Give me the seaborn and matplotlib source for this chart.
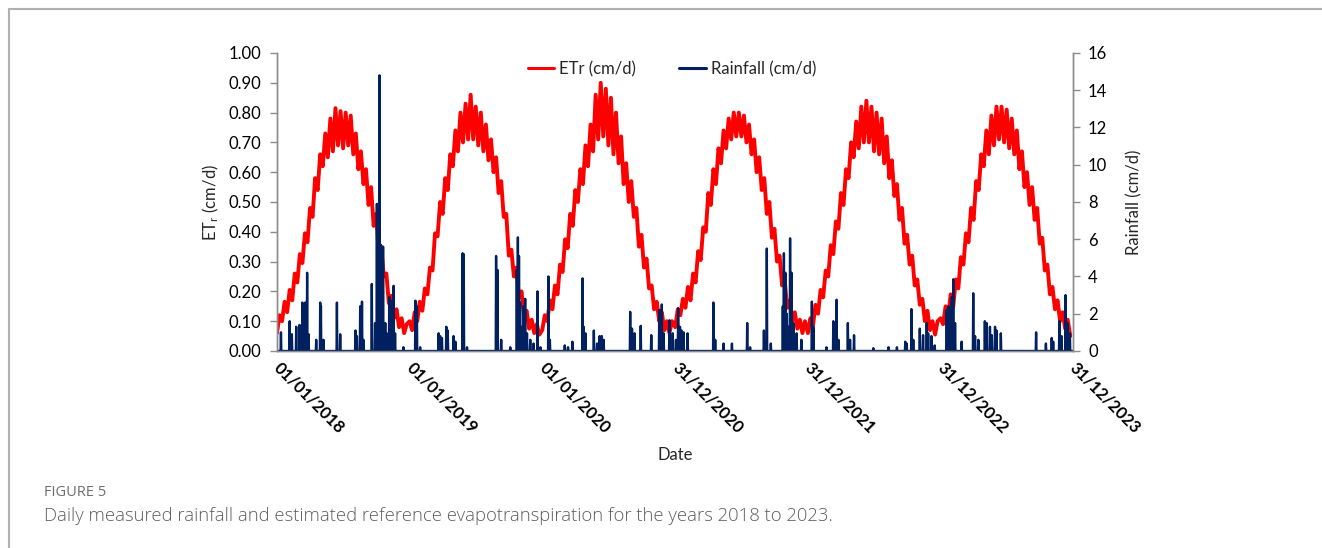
import numpy as np
import pandas as pd
import seaborn as sns
import matplotlib.pyplot as plt
from matplotlib.lines import Line2D

# Weekly reference ET (cm/d), one list per year
etr_2018 = [0.06, 0.12, 0.10, 0.165, 0.13, 0.205, 0.17, 0.26, 0.23, 0.325, 0.295, 0.395, 0.365,
            0.48, 0.45, 0.58, 0.54, 0.66, 0.62, 0.73, 0.65, 0.78, 0.67, 0.815, 0.69, 0.805,
            0.68, 0.80, 0.69, 0.79, 0.66, 0.73, 0.61, 0.67, 0.56, 0.61, 0.49, 0.55, 0.42,
            0.46, 0.34, 0.35, 0.25, 0.26, 0.16, 0.185, 0.11, 0.14, 0.08, 0.11, 0.06, 0.09]
etr_2019 = [0.10, 0.07, 0.13, 0.10, 0.165, 0.135, 0.21, 0.19, 0.28, 0.27, 0.395, 0.385, 0.50,
            0.46, 0.58, 0.54, 0.66, 0.62, 0.74, 0.67, 0.80, 0.70, 0.83, 0.71, 0.86, 0.71,
            0.82, 0.69, 0.80, 0.67, 0.76, 0.64, 0.71, 0.60, 0.65, 0.53, 0.57, 0.45, 0.46,
            0.32, 0.34, 0.25, 0.28, 0.18, 0.20, 0.115, 0.135, 0.075, 0.105, 0.06, 0.09, 0.055]
etr_2020 = [0.07, 0.12, 0.10, 0.17, 0.14, 0.22, 0.19, 0.29, 0.265, 0.375, 0.345, 0.46, 0.42,
            0.54, 0.50, 0.61, 0.56, 0.69, 0.62, 0.76, 0.67, 0.86, 0.71, 0.90, 0.72, 0.88,
            0.69, 0.85, 0.66, 0.80, 0.63, 0.72, 0.56, 0.63, 0.50, 0.57, 0.45, 0.48, 0.35,
            0.39, 0.28, 0.31, 0.21, 0.22, 0.14, 0.165, 0.10, 0.13, 0.07, 0.10, 0.06, 0.10]
etr_2021 = [0.08, 0.14, 0.12, 0.175, 0.145, 0.215, 0.17, 0.26, 0.23, 0.335, 0.305, 0.415, 0.40,
            0.53, 0.49, 0.61, 0.56, 0.68, 0.63, 0.74, 0.68, 0.78, 0.71, 0.80, 0.72, 0.80,
            0.72, 0.79, 0.70, 0.76, 0.66, 0.71, 0.60, 0.65, 0.54, 0.58, 0.46, 0.50, 0.38,
            0.41, 0.30, 0.32, 0.22, 0.24, 0.145, 0.17, 0.10, 0.13, 0.075, 0.105, 0.06, 0.10]
etr_2022 = [0.06, 0.11, 0.085, 0.155, 0.125, 0.205, 0.18, 0.27, 0.25, 0.355, 0.325, 0.435, 0.41,
            0.53, 0.49, 0.61, 0.58, 0.70, 0.65, 0.77, 0.68, 0.82, 0.70, 0.84, 0.70, 0.82,
            0.67, 0.80, 0.66, 0.78, 0.63, 0.72, 0.58, 0.64, 0.52, 0.56, 0.44, 0.48, 0.36,
            0.39, 0.29, 0.32, 0.22, 0.24, 0.155, 0.175, 0.10, 0.135, 0.07, 0.10, 0.055, 0.10]
etr_2023 = [0.11, 0.09, 0.15, 0.115, 0.19, 0.15, 0.24, 0.21, 0.315, 0.29, 0.395, 0.365, 0.48,
            0.44, 0.57, 0.54, 0.66, 0.62, 0.74, 0.66, 0.79, 0.69, 0.82, 0.71, 0.82, 0.70,
            0.81, 0.68, 0.78, 0.66, 0.74, 0.61, 0.67, 0.55, 0.60, 0.49, 0.55, 0.44, 0.48,
            0.36, 0.38, 0.27, 0.29, 0.19, 0.215, 0.14, 0.17, 0.10, 0.13, 0.075, 0.105, 0.05]
etr_years = [2018, 2019, 2020, 2021, 2022, 2023]

# Rain events: day number counted from 01/01/2018, and depth (cm/d)
rain_day = [11, 35, 41, 53, 62, 70, 78, 83, 87, 108, 119, 121, 128, 165, 174, 216, 220,
            229, 234, 238, 261, 270, 275, 279, 282, 286, 292, 298, 302, 309, 313, 321, 325,
            348,
            381, 385, 394, 445, 449, 454, 466, 470, 486, 491, 511, 514, 523, 603, 607, 617,
            642, 660, 663, 666, 669, 674, 678, 683, 688, 697, 706, 717, 725,
            747, 751, 792, 801, 813, 841, 844, 849, 872, 881, 888, 899,
            894, 972, 977, 984, 1001, 1030, 1052, 1057, 1059, 1064, 1080, 1089, 1098,
            1104, 1109, 1113, 1119, 1130, 1201, 1206, 1229, 1252, 1294, 1302,
            1340, 1348, 1359, 1392, 1395, 1399, 1403, 1407, 1412, 1416, 1421, 1430, 1443,
            1472, 1476, 1512, 1531, 1540, 1545, 1571, 1577, 1588, 1641, 1683, 1706, 1729,
            1733, 1746, 1751, 1769, 1778, 1788, 1792, 1801, 1810,
            1843, 1848, 1852, 1857, 1861, 1866, 1884, 1916, 1921, 1930, 1948, 1953, 1962,
            1967, 1976, 1980, 1992, 2089, 2116, 2132, 2136, 2153, 2159, 2170, 2175, 2182]
rain_cm = [1.0, 1.6, 0.9, 1.3, 1.4, 2.6, 2.6, 4.2, 0.9, 0.6, 2.6, 2.4, 0.6, 2.6, 0.9,
           1.1, 0.8, 2.4, 2.65, 0.6, 3.6, 1.5, 7.9, 6.3, 14.8, 5.7, 5.6, 1.5, 0.95, 2.9,
           2.7, 3.5, 0.95, 0.2,
           2.7, 2.4, 0.2, 0.95, 0.8, 0.7, 1.3, 1.1, 0.8, 0.5, 5.25, 5.2, 0.2, 5.1, 4.35,
           0.6, 0.2, 4.35, 6.1, 5.1, 2.6, 1.3, 2.4, 2.8, 0.95, 0.6, 0.4, 3.2, 0.2,
           4.0, 0.6, 0.3, 0.2, 0.5, 3.9, 1.3, 0.95, 1.1, 0.4, 0.8, 0.6,
           0.8, 2.1, 1.2, 0.95, 1.35, 0.85, 2.2, 1.3, 2.5, 0.95, 1.65, 0.95, 0.6,
           2.3, 1.3, 1.1, 1.0, 0.95, 2.6, 0.6, 0.4, 0.4, 1.5, 0.2,
           1.1, 5.5, 0.4, 2.4, 5.25, 4.2, 2.0, 1.3, 6.05, 4.2, 1.5, 0.95, 0.6,
           2.65, 1.3, 0.2, 1.6, 2.75, 0.6, 1.5, 0.6, 0.85, 0.15, 0.2, 0.2, 0.5,
           0.4, 2.25, 0.6, 1.2, 0.85, 1.5, 0.95, 0.8, 0.3,
           2.2, 2.4, 2.3, 2.9, 3.85, 1.5, 0.5, 3.1, 0.8, 0.6, 1.6, 1.5, 1.3,
           0.85, 1.3, 1.1, 0.95, 1.0, 0.4, 0.7, 0.5, 1.6, 0.8, 3.0, 1.5, 0.95]

x_ticks = ["2018-01-01", "2019-01-01", "2020-01-01", "2020-12-31",
           "2021-12-31", "2022-12-31", "2023-12-31"]

# build frames
etr_frames = []
for year, vals in zip(etr_years, [etr_2018, etr_2019, etr_2020, etr_2021, etr_2022, etr_2023]):
    dates = pd.date_range(f"{year}-01-01", periods=len(vals), freq="7D")
    etr_frames.append(pd.DataFrame({"date": dates, "etr": vals}))
etr_df = pd.concat(etr_frames, ignore_index=True)

start = pd.Timestamp("2018-01-01")
days = pd.date_range(start, "2023-12-31", freq="D")
rain = np.zeros(len(days))
rain[np.array(rain_day)] = rain_cm
rain_df = pd.DataFrame({"date": days, "rain": rain})

sns.set_theme(style="white")
plt.rcParams["font.family"] = ["Lato", "DejaVu Sans"]
plt.rcParams["mathtext.fontset"] = "custom"
plt.rcParams["mathtext.rm"] = "Lato"

fig = plt.figure(figsize=(13.22, 5.48), dpi=100)
ax = fig.add_axes([0.2095, 0.3595, 0.602, 0.5438])
ax2 = ax.twinx()

red = "#FF0000"
navy = "#002060"
sns.lineplot(data=rain_df, x="date", y="rain", ax=ax2, color=navy, linewidth=1.7)
sns.lineplot(data=etr_df, x="date", y="etr", ax=ax, color=red, linewidth=2.8)
# rainfall drawn in front like the original
ax.set_zorder(1)
ax.patch.set_visible(False)
ax2.set_zorder(2)

ax.set_xlim(start, pd.Timestamp("2023-12-31"))
ax.set_ylim(0, 1.0)
ax2.set_ylim(0, 16)
ax.set_yticks(np.arange(0, 1.01, 0.1))
ax.set_yticklabels([f"{v:.2f}" for v in np.arange(0, 1.01, 0.1)])
ax2.set_yticks(np.arange(0, 17, 2))

tick_dates = pd.to_datetime(x_ticks)
ax.set_xticks(tick_dates)
ax.set_xticklabels([d.strftime("%d/%m/%Y") for d in tick_dates], rotation=-45,
                   ha="left", va="center", rotation_mode="anchor",
                   fontsize=12, fontweight="bold")

gray = "#8c8c8c"
for a in (ax, ax2):
    for s in a.spines.values():
        s.set_color(gray)
        s.set_linewidth(1.0)
    a.spines["top"].set_visible(False)
    a.tick_params(axis="both", which="major", length=5, width=1.0, color=gray,
                  labelsize=12, labelcolor="#000000", direction="out")
ax.tick_params(axis="x", pad=5)
ax.tick_params(axis="y", left=True, right=False, pad=6)
ax2.tick_params(axis="y", right=True, left=False, pad=6)

ax.set_xlabel("Date", fontsize=12, labelpad=8)
ax.set_ylabel("$\\mathrm{ET_r}$ (cm/d)", fontsize=12, labelpad=6)
ax2.set_ylabel("Rainfall (cm/d)", fontsize=12, labelpad=14)
ax2.set_xlabel("")

handles = [Line2D([], [], color=red, linewidth=2.2),
           Line2D([], [], color=navy, linewidth=2.2)]
fig.legend(handles, ["ETr (cm/d)", "Rainfall (cm/d)"], loc="center",
           bbox_to_anchor=(672 / 1322, 1 - 69 / 548), ncol=2, frameon=False,
           fontsize=12, handlelength=1.6, handletextpad=0.3, columnspacing=2.6)

# journal frame and caption
fig.add_artist(Line2D([9 / 1322, 1.0], [1 - 9 / 548, 1 - 9 / 548], color="#b0b0b0", linewidth=1.5))
fig.add_artist(Line2D([9 / 1322, 9 / 1322], [0, 1 - 9 / 548], color="#b0b0b0", linewidth=1.5))
fig.text(44 / 1322, 1 - 492 / 548, "FIGURE 5", fontsize=10.5, color="#6e6e6e",
         va="center", ha="left", family=["Open Sans", "DejaVu Sans"])
fig.text(44 / 1322, 1 - 516 / 548,
         "Daily measured rainfall and estimated reference evapotranspiration for the years 2018 to 2023.",
         fontsize=13.3, color="#5e5e5e", va="center", ha="left",
         family=["Open Sans", "DejaVu Sans"], fontweight="light")

fig.savefig("out.png", dpi=100)
